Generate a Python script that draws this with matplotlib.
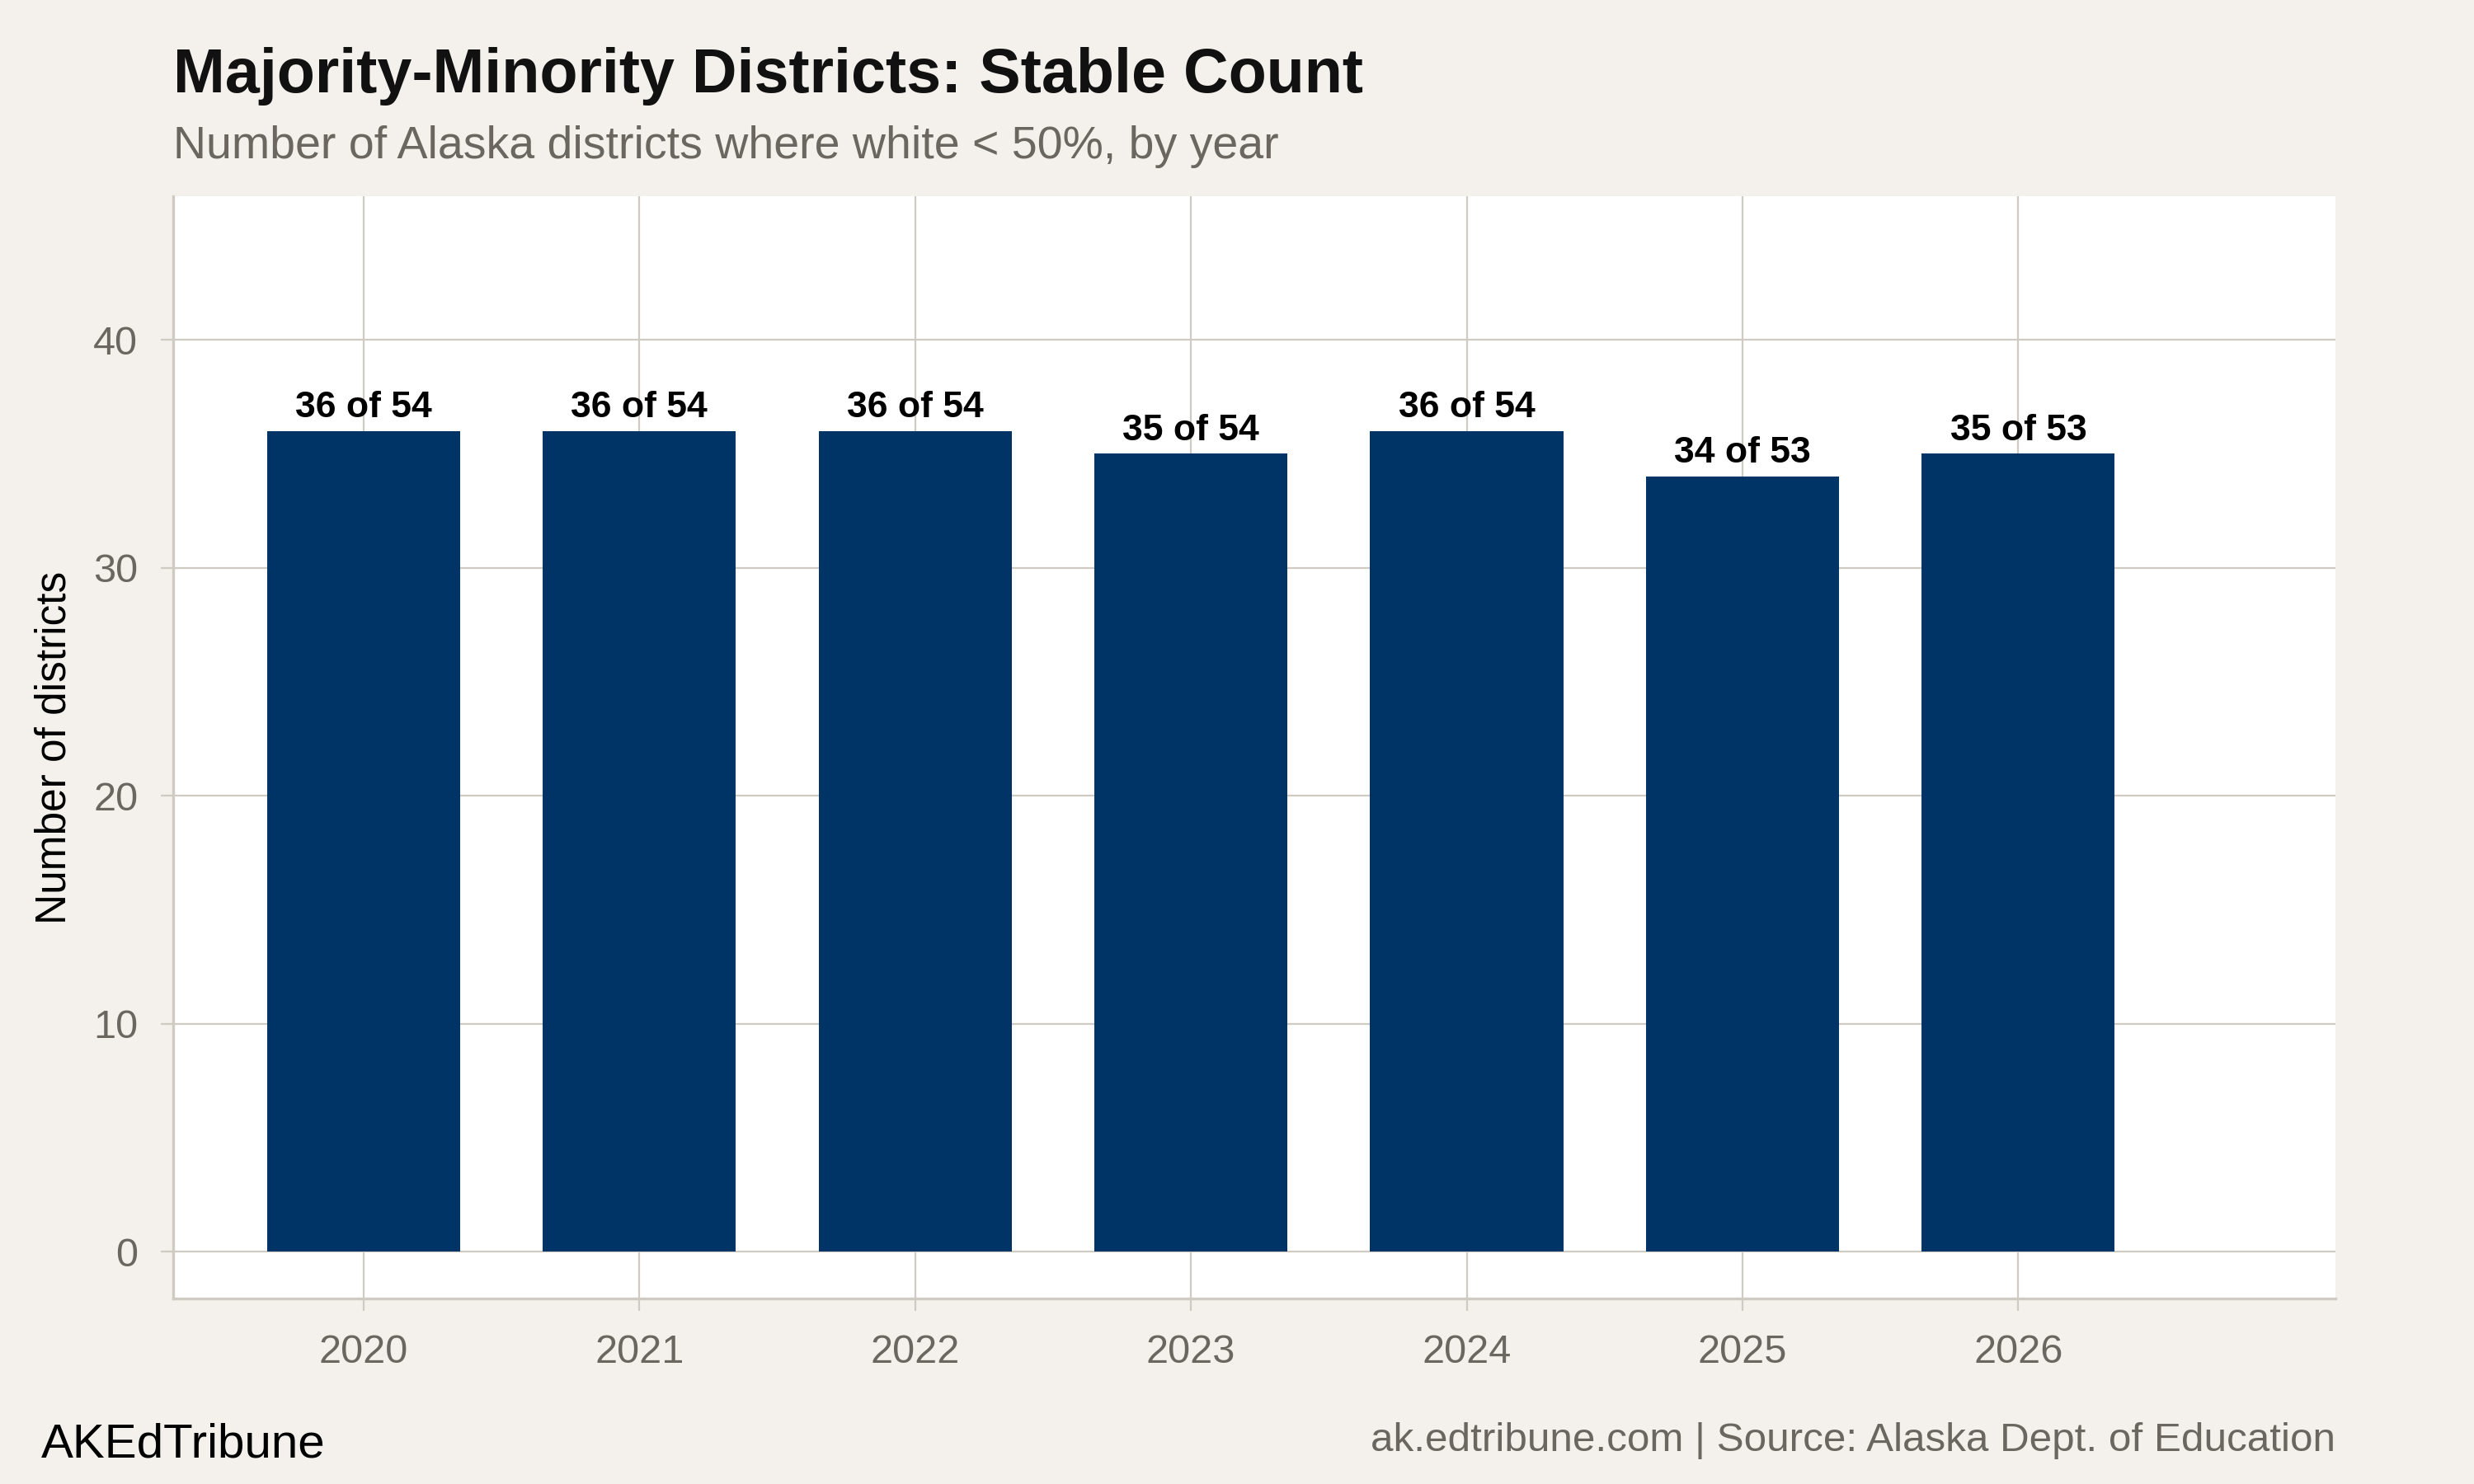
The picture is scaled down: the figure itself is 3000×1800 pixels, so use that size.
import matplotlib
matplotlib.use("Agg")
from matplotlib import pyplot as plt

# === DATA ===
years = [2020, 2021, 2022, 2023, 2024, 2025, 2026]
minority_counts = [36, 36, 36, 35, 36, 34, 35]
total_districts = [54, 54, 54, 54, 54, 53, 53]
bar_labels = [f"{c} of {t}" for c, t in zip(minority_counts, total_districts)]

# === STYLE ===
bg = "#F4F1EC"
bar_color = "#003366"
grid_color = "#CFCAC2"
grey_text = "#6B6760"
plt.rcParams["font.family"] = ["Liberation Sans", "DejaVu Sans"]

fig = plt.figure(figsize=(15, 9), dpi=200, facecolor=bg)
ax = fig.add_axes([0.07, 0.125, 0.874, 0.7428])
ax.set_facecolor("white")

bars = ax.bar(years, minority_counts, width=0.7, color=bar_color, zorder=3)
for rect, lab in zip(bars, bar_labels):
    ax.annotate(lab, (rect.get_x() + rect.get_width() / 2, rect.get_height()),
                xytext=(0, 6), textcoords="offset points",
                ha="center", va="baseline", fontsize=16, fontweight="bold",
                color="black", zorder=4)

ax.set_xlim(2019.31, 2027.15)
ax.set_ylim(-2.06, 46.3)
ax.set_xticks(years)
ax.set_yticks([0, 10, 20, 30, 40])
ax.grid(True, color=grid_color, linewidth=0.8, zorder=0)
ax.set_axisbelow(True)

for side in ["top", "right"]:
    ax.spines[side].set_visible(False)
for side in ["left", "bottom"]:
    ax.spines[side].set_color(grid_color)
    ax.spines[side].set_linewidth(1.2)

ax.tick_params(axis="both", direction="out", length=5.4, width=0.8,
               color=grid_color, labelcolor=grey_text, labelsize=17.5, pad=10)
ax.set_ylabel("Number of districts", fontsize=18.5, color="black", labelpad=8)

# === TITLES & FOOTER ===
fig.text(0.07, 1 - 112 / 1800, "Majority-Minority Districts: Stable Count",
         fontsize=27.2, fontweight="bold", color="#111111", ha="left", va="baseline")
fig.text(0.07, 1 - 192 / 1800, "Number of Alaska districts where white < 50%, by year",
         fontsize=20, color=grey_text, ha="left", va="baseline")
fig.text(50 / 3000, 1 - 1767 / 1800, "AKEdTribune",
         fontsize=21, color="black", ha="left", va="baseline")
fig.text(2832 / 3000, 1 - 1760 / 1800,
         "ak.edtribune.com | Source: Alaska Dept. of Education",
         fontsize=17.8, color=grey_text, ha="right", va="baseline")

fig.savefig("out.png", dpi=200, facecolor=bg)
